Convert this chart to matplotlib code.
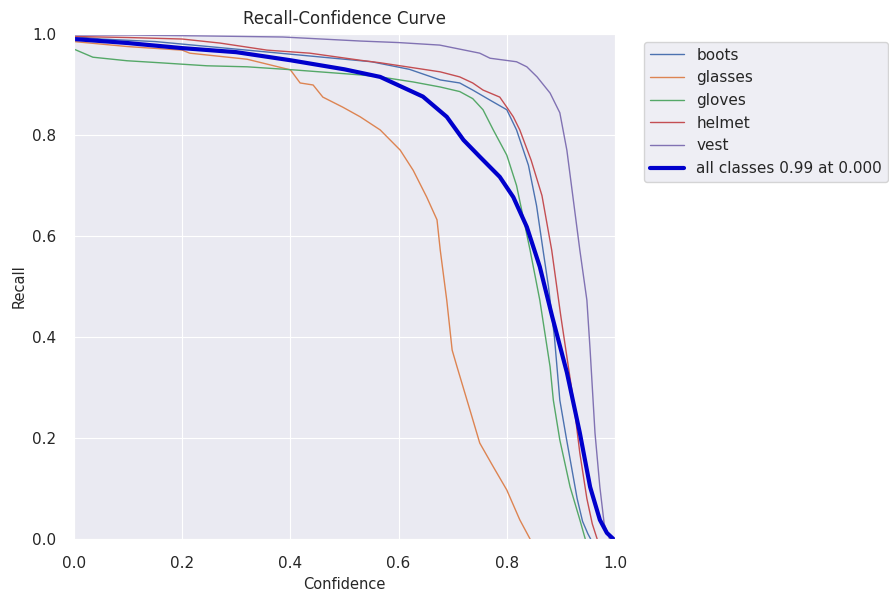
import matplotlib
matplotlib.use("Agg")
import matplotlib.pyplot as plt
import seaborn as sns

# confidence / recall points
boots_x = [0.0, 0.05, 0.15, 0.25, 0.35, 0.45, 0.55, 0.62, 0.677, 0.713, 0.737, 0.769, 0.80, 0.818,
           0.84, 0.855, 0.867, 0.877, 0.888, 0.898, 0.91, 0.92, 0.93, 0.94, 0.95, 0.955]
boots_y = [0.995, 0.99, 0.985, 0.975, 0.965, 0.955, 0.945, 0.93, 0.909, 0.903, 0.889, 0.869, 0.85, 0.81,
           0.74, 0.66, 0.572, 0.50, 0.40, 0.275, 0.20, 0.14, 0.08, 0.035, 0.01, 0.0]

glasses_x = [0.0, 0.1, 0.2, 0.214, 0.32, 0.4, 0.418, 0.442, 0.46, 0.497, 0.529, 0.566, 0.603, 0.627,
             0.652, 0.671, 0.677, 0.689, 0.699, 0.708, 0.732, 0.75, 0.775, 0.80, 0.824, 0.843]
glasses_y = [0.985, 0.975, 0.968, 0.962, 0.95, 0.929, 0.903, 0.899, 0.875, 0.855, 0.836, 0.81, 0.77, 0.73,
             0.677, 0.632, 0.572, 0.473, 0.374, 0.341, 0.255, 0.19, 0.143, 0.097, 0.038, 0.0]

gloves_x = [0.0, 0.035, 0.098, 0.159, 0.246, 0.32, 0.405, 0.529, 0.566, 0.627, 0.677, 0.713, 0.737,
            0.756, 0.775, 0.80, 0.818, 0.843, 0.861, 0.88, 0.886, 0.898, 0.917, 0.935, 0.945]
gloves_y = [0.97, 0.954, 0.947, 0.943, 0.937, 0.935, 0.929, 0.919, 0.915, 0.905, 0.895, 0.886, 0.872,
            0.85, 0.81, 0.76, 0.70, 0.572, 0.473, 0.341, 0.275, 0.196, 0.103, 0.038, 0.0]

helmet_x = [0.0, 0.1, 0.2, 0.27, 0.357, 0.436, 0.529, 0.566, 0.677, 0.713, 0.737, 0.756, 0.787, 0.80,
            0.812, 0.824, 0.845, 0.865, 0.883, 0.90, 0.923, 0.935, 0.948, 0.958, 0.967]
helmet_y = [0.995, 0.993, 0.99, 0.982, 0.968, 0.962, 0.948, 0.943, 0.925, 0.915, 0.903, 0.889, 0.875, 0.855,
            0.836, 0.81, 0.75, 0.68, 0.572, 0.44, 0.275, 0.17, 0.08, 0.03, 0.0]

vest_x = [0.0, 0.1, 0.25, 0.386, 0.53, 0.6, 0.676, 0.75, 0.769, 0.818, 0.837, 0.856, 0.88, 0.898,
          0.911, 0.923, 0.935, 0.948, 0.954, 0.963, 0.972, 0.98, 0.99]
vest_y = [0.998, 0.998, 0.996, 0.994, 0.986, 0.983, 0.978, 0.962, 0.952, 0.945, 0.935, 0.915, 0.883, 0.844,
          0.77, 0.671, 0.572, 0.473, 0.374, 0.21, 0.103, 0.03, 0.0]

all_x = [0.0, 0.1, 0.2, 0.3, 0.4, 0.5, 0.566, 0.645, 0.689, 0.72, 0.75, 0.787, 0.812, 0.837, 0.861,
         0.884, 0.911, 0.935, 0.954, 0.972, 0.985, 0.997]
all_y = [0.99, 0.982, 0.972, 0.964, 0.948, 0.93, 0.915, 0.876, 0.836, 0.79, 0.757, 0.717, 0.677, 0.618, 0.539,
         0.44, 0.33, 0.21, 0.103, 0.038, 0.012, 0.0]

names = ["boots", "glasses", "gloves", "helmet", "vest"]
xs = [boots_x, glasses_x, gloves_x, helmet_x, vest_x]
ys = [boots_y, glasses_y, gloves_y, helmet_y, vest_y]

sns.set_style("darkgrid")
plt.rcParams["font.family"] = ["DejaVu Sans"]
plt.rcParams["font.size"] = 10

fig = plt.figure(figsize=(8.89, 5.91), dpi=100)
ax = fig.add_axes([0.0832, 0.088, 0.6086, 0.8545])
colors = sns.color_palette("deep")

for i, name in enumerate(names):
    ax.plot(xs[i], ys[i], linewidth=1, color=colors[i], label=name)
ax.plot(all_x, all_y, linewidth=3, color="#0000cc", label="all classes 0.99 at 0.000")

ax.set_xlabel("Confidence", fontsize=10.5)
ax.set_ylabel("Recall", fontsize=10.5)
ax.set_xlim(0, 1)
ax.set_ylim(0, 1)
ax.set_title("Recall-Confidence Curve", fontsize=12, pad=7)
ax.tick_params(axis="both", pad=9, labelsize=11)
ax.legend(bbox_to_anchor=(1.04, 1), loc="upper left", fontsize=11, handlelength=2.2)

fig.savefig("out.png", dpi=100)
